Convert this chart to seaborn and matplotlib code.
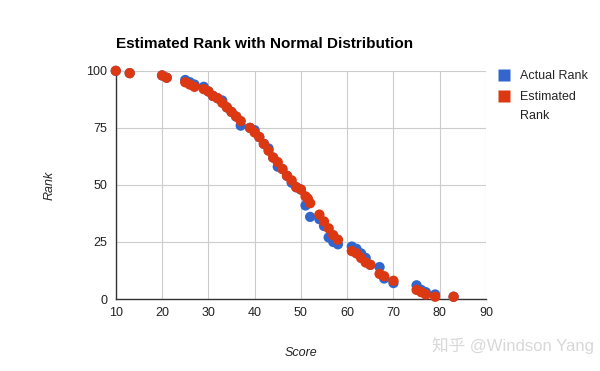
import pandas as pd
import matplotlib
matplotlib.use('Agg')
import matplotlib.pyplot as plt
import seaborn as sns
from matplotlib.lines import Line2D

scores = [10, 13, 20, 21, 25, 26, 27, 29, 30, 31, 32, 33, 34, 35, 36, 37,
          39, 40, 41, 42, 43, 44, 45, 46, 47, 48, 49, 50, 51, 51.5, 52,
          54, 55, 56, 57, 58, 61, 62, 63, 64, 65, 67, 68, 70, 75, 76, 77, 79, 83]
actual = [100, 99, 98, 97, 96, 95, 94, 93, 91, 89, 88, 87, 84, 82, 80, 76,
          75, 74, 71, 68, 66, 62, 58, 57, 54, 51, 49, 48, 41, 43, 36,
          35, 32, 27, 25, 24, 23, 22, 20, 18, 15, 14, 9, 7, 6, 4, 3, 2, 1]
estimated = [100, 99, 98, 97, 95, 94, 93, 92, 91, 89, 88, 86, 84, 82, 80, 78,
             75, 73, 71, 68, 65, 62, 60, 57, 54, 52, 49, 48, 45, 44, 42,
             37, 34, 31, 28, 26, 21, 20, 18, 16, 15, 11, 10, 8, 4, 3, 2, 1, 1]

series_names = ['Actual Rank', 'Estimated Rank']
colors = ['#3366CC', '#DC3912']

df = pd.DataFrame({
    'Score': scores * 2,
    'Rank': actual + estimated,
    'series': ['Actual Rank'] * len(scores) + ['Estimated Rank'] * len(scores),
})

sns.set_style('white')
plt.rcParams['font.family'] = ['Liberation Sans', 'Noto Sans CJK SC', 'DejaVu Sans']

fig = plt.figure(figsize=(6, 3.71), dpi=100)
ax = fig.add_axes([0.193, 0.194, 0.617, 0.615])

sns.scatterplot(data=df, x='Score', y='Rank', hue='series',
                palette=dict(zip(series_names, colors)), s=55,
                edgecolor='none', legend=False, ax=ax, clip_on=False, zorder=3)

ax.set_xlim(10, 90)
ax.set_ylim(0, 100)
ax.set_xticks(range(10, 91, 10))
ax.set_yticks([0, 25, 50, 75, 100])
ax.grid(True, color='#CCCCCC', linewidth=0.8)
ax.set_axisbelow(True)
for s in ['top', 'right']:
    ax.spines[s].set_visible(False)
for s in ['left', 'bottom']:
    ax.spines[s].set_color('#333333')
    ax.spines[s].set_linewidth(1.0)
ax.tick_params(axis='both', length=0, labelsize=9, colors='#222222', pad=6)

ax.set_xlabel('Score', fontsize=9, style='italic', labelpad=20)
ax.set_ylabel('Rank', fontsize=9, style='italic', labelpad=22)
fig.text(0.193, 0.87, 'Estimated Rank with Normal Distribution',
         fontsize=11, fontweight='bold', color='#000000')

# legend: wrapped second label, marker aligned with first line like the original
handles = [Line2D([0], [0], marker='s', linestyle='none', markersize=9,
                  markerfacecolor=c, markeredgecolor='none') for c in colors]
leg = fig.legend(handles, ['Actual Rank', 'Estimated'], loc='upper left',
                 bbox_to_anchor=(0.81, 0.825), frameon=False, fontsize=9,
                 handletextpad=0.3, labelspacing=0.75, borderaxespad=0)
fig.canvas.draw()
bb = leg.get_texts()[1].get_window_extent().transformed(fig.transFigure.inverted())
fig.text(bb.x0, bb.y0 - 0.018, 'Rank', fontsize=9, va='top', ha='left', color='#222222')

fig.text(0.99, 0.07, '知乎 @Windson Yang', fontsize=12, color='#D8D8D8',
         ha='right', va='center')

plt.savefig('out.png', dpi=100)
